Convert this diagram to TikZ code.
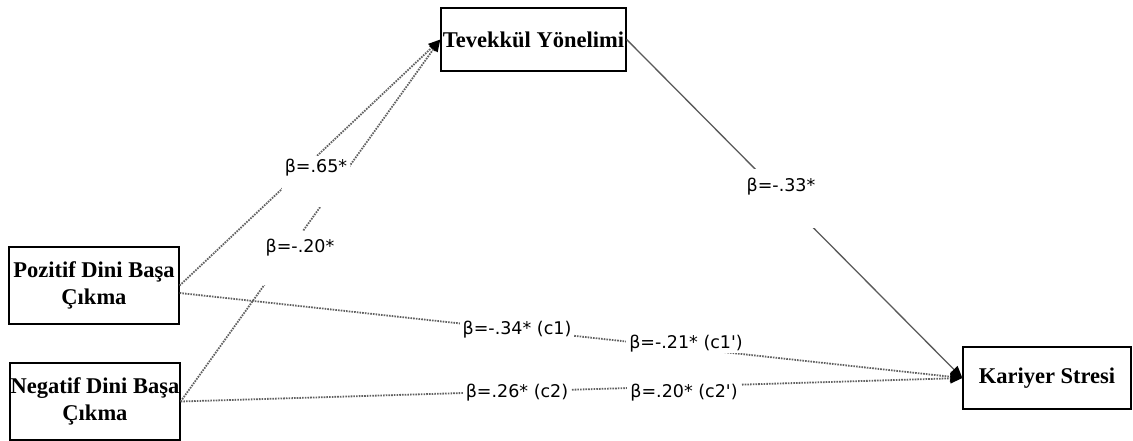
\documentclass[tikz,border=0pt]{standalone}
\usepackage{fontspec}
\setmainfont{Liberation Serif}
\newfontfamily\lblfont{DejaVu Sans}
\usetikzlibrary{arrows.meta}
\begin{document}
\begin{tikzpicture}[x=1pt,y=-1pt,
  box/.style={draw=black, line width=1.3pt, fill=white, inner sep=0pt, align=center,
    font=\fontsize{22.5}{27}\selectfont\bfseries},
  dotline/.style={draw=black!62, line width=1.8pt, dash pattern=on 1.6pt off 1.1pt},
  solidline/.style={draw=black!65, line width=1.3pt},
  tip/.style={-{Triangle[length=12pt,width=10pt,color=black]}},
  lbl/.style={fill=white, anchor=base, inner xsep=3pt, inner ysep=4pt,
    text height=13pt, text depth=4pt, font=\lblfont\fontsize{17.5}{20}\selectfont}
]
\useasboundingbox (0,0) rectangle (1133,441);
% boxes
\node[box, minimum width=185pt, minimum height=63pt] (tev) at (533.5,39.5) {Tevekkül Yönelimi};
\node[box, minimum width=170pt, minimum height=77pt] (poz) at (94,285.5) {Pozitif Dini Başa\\Çıkma};
\node[box, minimum width=170pt, minimum height=77pt] (neg) at (95,401.5) {Negatif Dini Başa\\Çıkma};
\node[box, minimum width=168pt, minimum height=62pt] (kar) at (1047,378) {Kariyer Stresi};
% connectors
\draw[dotline, tip] (poz.east) -- (tev.west);
\draw[dotline, tip] (neg.east) -- (tev.west);
\draw[solidline, tip] (tev.east) -- (kar.west);
\draw[dotline, tip] (poz.-5) -- (kar.west);
\draw[dotline, tip] (neg.east) -- (kar.west);
% labels
\node[lbl, text depth=30pt] (l65) at (316,173) {β=.65*};
\node[lbl, inner ysep=8pt, text depth=25pt] (l20) at (300,252) {β=-.20*};
\node[lbl, inner ysep=10pt, text depth=26pt] (l33) at (781,192) {β=-.33*};
\node[lbl] (lc1) at (517,334) {β=-.34* (c1)};
\node[lbl, text depth=1pt] (lc1p) at (686,348) {β=-.21* (c1')};
\node[lbl] (lc2) at (517,397) {β=.26* (c2)};
\node[lbl] (lc2p) at (684,397) {β=.20* (c2')};
\end{tikzpicture}
\end{document}
